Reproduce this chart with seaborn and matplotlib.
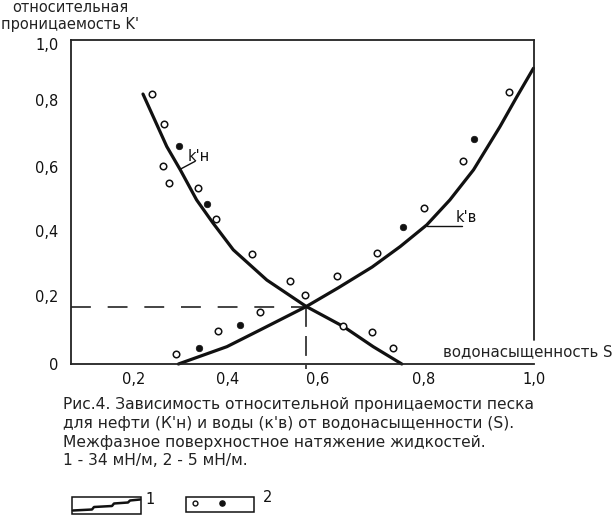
import numpy as np
import pandas as pd
import seaborn as sns
import matplotlib
matplotlib.use("Agg")
import matplotlib.pyplot as plt
from matplotlib.patches import Rectangle

# hand-drawn axes: tick positions are not evenly spaced in the original
x_knots = [-1.0, 0.2, 0.4, 0.6, 0.8, 1.0, 2.0]
x_px = [-425.8, 134.0, 227.3, 318.0, 424.0, 534.0, 1084.0]
y_knots = [-1.0, 0.0, 0.2, 0.4, 0.6, 0.8, 1.0, 2.0]
y_px = [-340.0, 0.0, 68.0, 133.0, 197.0, 264.0, 320.0, 600.0]

# кривые 1 (34 мН/м)
kn_s = [0.219, 0.270, 0.299, 0.334, 0.369, 0.413, 0.487, 0.574, 0.648, 0.704, 0.758]
kn_k = [0.821, 0.661, 0.591, 0.497, 0.425, 0.342, 0.249, 0.169, 0.110, 0.051, 0.0]
kv_s = [0.295, 0.399, 0.472, 0.574, 0.638, 0.702, 0.755, 0.805, 0.847, 0.890, 0.938, 0.969, 0.999]
kv_k = [0.0, 0.051, 0.100, 0.169, 0.225, 0.289, 0.352, 0.419, 0.497, 0.591, 0.720, 0.812, 0.913]

# точки 2 (5 мН/м): открытые и залитые кружки
open_s = [0.238, 0.264, 0.262, 0.274, 0.337, 0.375, 0.455, 0.539, 0.572, 0.648, 0.702, 0.742,
          0.290, 0.379, 0.471, 0.636, 0.711, 0.799, 0.871, 0.955]
open_k = [0.821, 0.728, 0.603, 0.549, 0.535, 0.437, 0.329, 0.247, 0.204, 0.111, 0.093, 0.046,
          0.029, 0.098, 0.153, 0.262, 0.333, 0.471, 0.617, 0.827]
fill_s = [0.296, 0.356, 0.339, 0.427, 0.760, 0.890]
fill_k = [0.664, 0.484, 0.046, 0.116, 0.413, 0.683]

cross_s, cross_k = 0.574, 0.169

xticks = [0.2, 0.4, 0.6, 0.8, 1.0]
xlabels = ["0,2", "0,4", "0,6", "0,8", "1,0"]
yticks = [0.0, 0.2, 0.4, 0.6, 0.8, 1.0]
ylabels = ["0", "0,2", "0,4", "0,6", "0,8", "1,0"]

caption = ["Рис.4. Зависимость относительной проницаемости песка",
           "для нефти (К'н) и воды (к'в) от водонасыщенности (S).",
           "Межфазное поверхностное натяжение жидкостей.",
           "1 - 34 мН/м, 2 - 5 мН/м."]

sns.set_style("white")
plt.rcParams["font.family"] = ["DejaVu Sans"]
ink = "#111111"

fig = plt.figure(figsize=(6.14, 5.18), dpi=100)
ax = fig.add_axes([70.7 / 614, (518 - 364) / 518, (534 - 70.7) / 614, 324 / 518])

ax.set_xscale("function", functions=(lambda v: np.interp(v, x_knots, x_px),
                                     lambda v: np.interp(v, x_px, x_knots)))
ax.set_yscale("function", functions=(lambda v: np.interp(v, y_knots, y_px),
                                     lambda v: np.interp(v, y_px, y_knots)))

df_n = pd.DataFrame({"S": kn_s, "k": kn_k})
df_v = pd.DataFrame({"S": kv_s, "k": kv_k})
sns.lineplot(data=df_n, x="S", y="k", color=ink, lw=2.3, ax=ax, clip_on=False)
sns.lineplot(data=df_v, x="S", y="k", color=ink, lw=2.3, ax=ax, clip_on=False)
sns.scatterplot(x=open_s, y=open_k, marker="o", s=22, facecolor="white",
                edgecolor=ink, linewidth=1.1, ax=ax, zorder=4, clip_on=False)
sns.scatterplot(x=fill_s, y=fill_k, marker="o", s=22, color=ink,
                edgecolor=ink, linewidth=0.5, ax=ax, zorder=4, clip_on=False)

# пунктир к точке пересечения
ax.plot([0.064, cross_s], [cross_k, cross_k], color=ink, lw=1.1, ls=(0, (13, 11)))
ax.plot([cross_s, cross_s], [cross_k, -0.015], color=ink, lw=1.1, ls=(0, (13, 6)), clip_on=False)

ax.set_xlim(0.064, 1.0)
ax.set_ylim(0.0, 1.014)
ax.set_xlabel("")
ax.set_ylabel("")
ax.set_xticks(xticks)
ax.set_xticklabels(xlabels, fontsize=10.5)
ax.set_yticks(yticks)
ax.set_yticklabels(ylabels, fontsize=10.5)
ax.tick_params(axis="x", direction="inout", length=9, width=1.1, pad=1, colors=ink)
ax.tick_params(axis="y", direction="inout", length=12, width=1.1, pad=3, colors=ink)
xl = ax.xaxis.get_ticklines()
xl[-2].set_visible(False)
yl = ax.yaxis.get_ticklines()
for i in [0, 1, 10, 11]:
    yl[i].set_visible(False)

for side in ["left", "top", "bottom"]:
    ax.spines[side].set_linewidth(1.3)
    ax.spines[side].set_color("#222222")
ax.spines["right"].set_visible(False)
ax.axvline(1.0, ymin=24 / 324, ymax=1.0, color="#222222", lw=1.3, clip_on=False)

# подписи кривых
ax.text(0.339, 0.631, "k'н", fontsize=10.5, ha="center", va="center", color=ink)
ax.plot([0.299, 0.331], [0.593, 0.617], color=ink, lw=1.0)
ax.text(0.858, 0.420, "k'в", fontsize=10.5, ha="left", va="bottom", color=ink)
ax.plot([0.805, 0.869], [0.414, 0.414], color=ink, lw=1.0)

ax.text(0.835, 0.036, "водонасыщенность S", fontsize=10.8, ha="left", va="center",
        color="#222222", clip_on=False)
fig.text(70 / 614, 1 - 8 / 518, "относительная", fontsize=10.5, ha="center", va="center", color="#222222")
fig.text(70 / 614, 1 - 25 / 518, "проницаемость K'", fontsize=10.5, ha="center", va="center", color="#222222")

for i, line in enumerate(caption):
    fig.text(62.7 / 614, 1 - (405 + 18.5 * i) / 518, line, fontsize=11.2,
             ha="left", va="center", color="#222222")

# условные обозначения
lg = fig.add_axes([0, 0, 1, 1], zorder=-1)
lg.set_xlim(0, 614)
lg.set_ylim(518, 0)
lg.axis("off")
lg.add_patch(Rectangle((71.7, 497.3), 69, 16.7, fill=False, ec=ink, lw=1.1))
lg.plot([73, 92, 94, 112, 114, 128, 130, 140], [510.5, 509.5, 507, 506, 503.5, 502.5, 500.5, 499.5],
        color=ink, lw=1.8)
lg.text(150, 500, "1", fontsize=10.5, ha="center", va="center", color=ink)
lg.add_patch(Rectangle((186, 496.7), 68, 15, fill=False, ec=ink, lw=1.1))
lg.scatter([195], [503.3], s=12, facecolor="white", edgecolor=ink, linewidth=1.0)
lg.scatter([221.7], [503.3], s=14, color=ink)
lg.text(268, 497, "2", fontsize=10.5, ha="center", va="center", color=ink)

fig.savefig("out.png", dpi=100)
